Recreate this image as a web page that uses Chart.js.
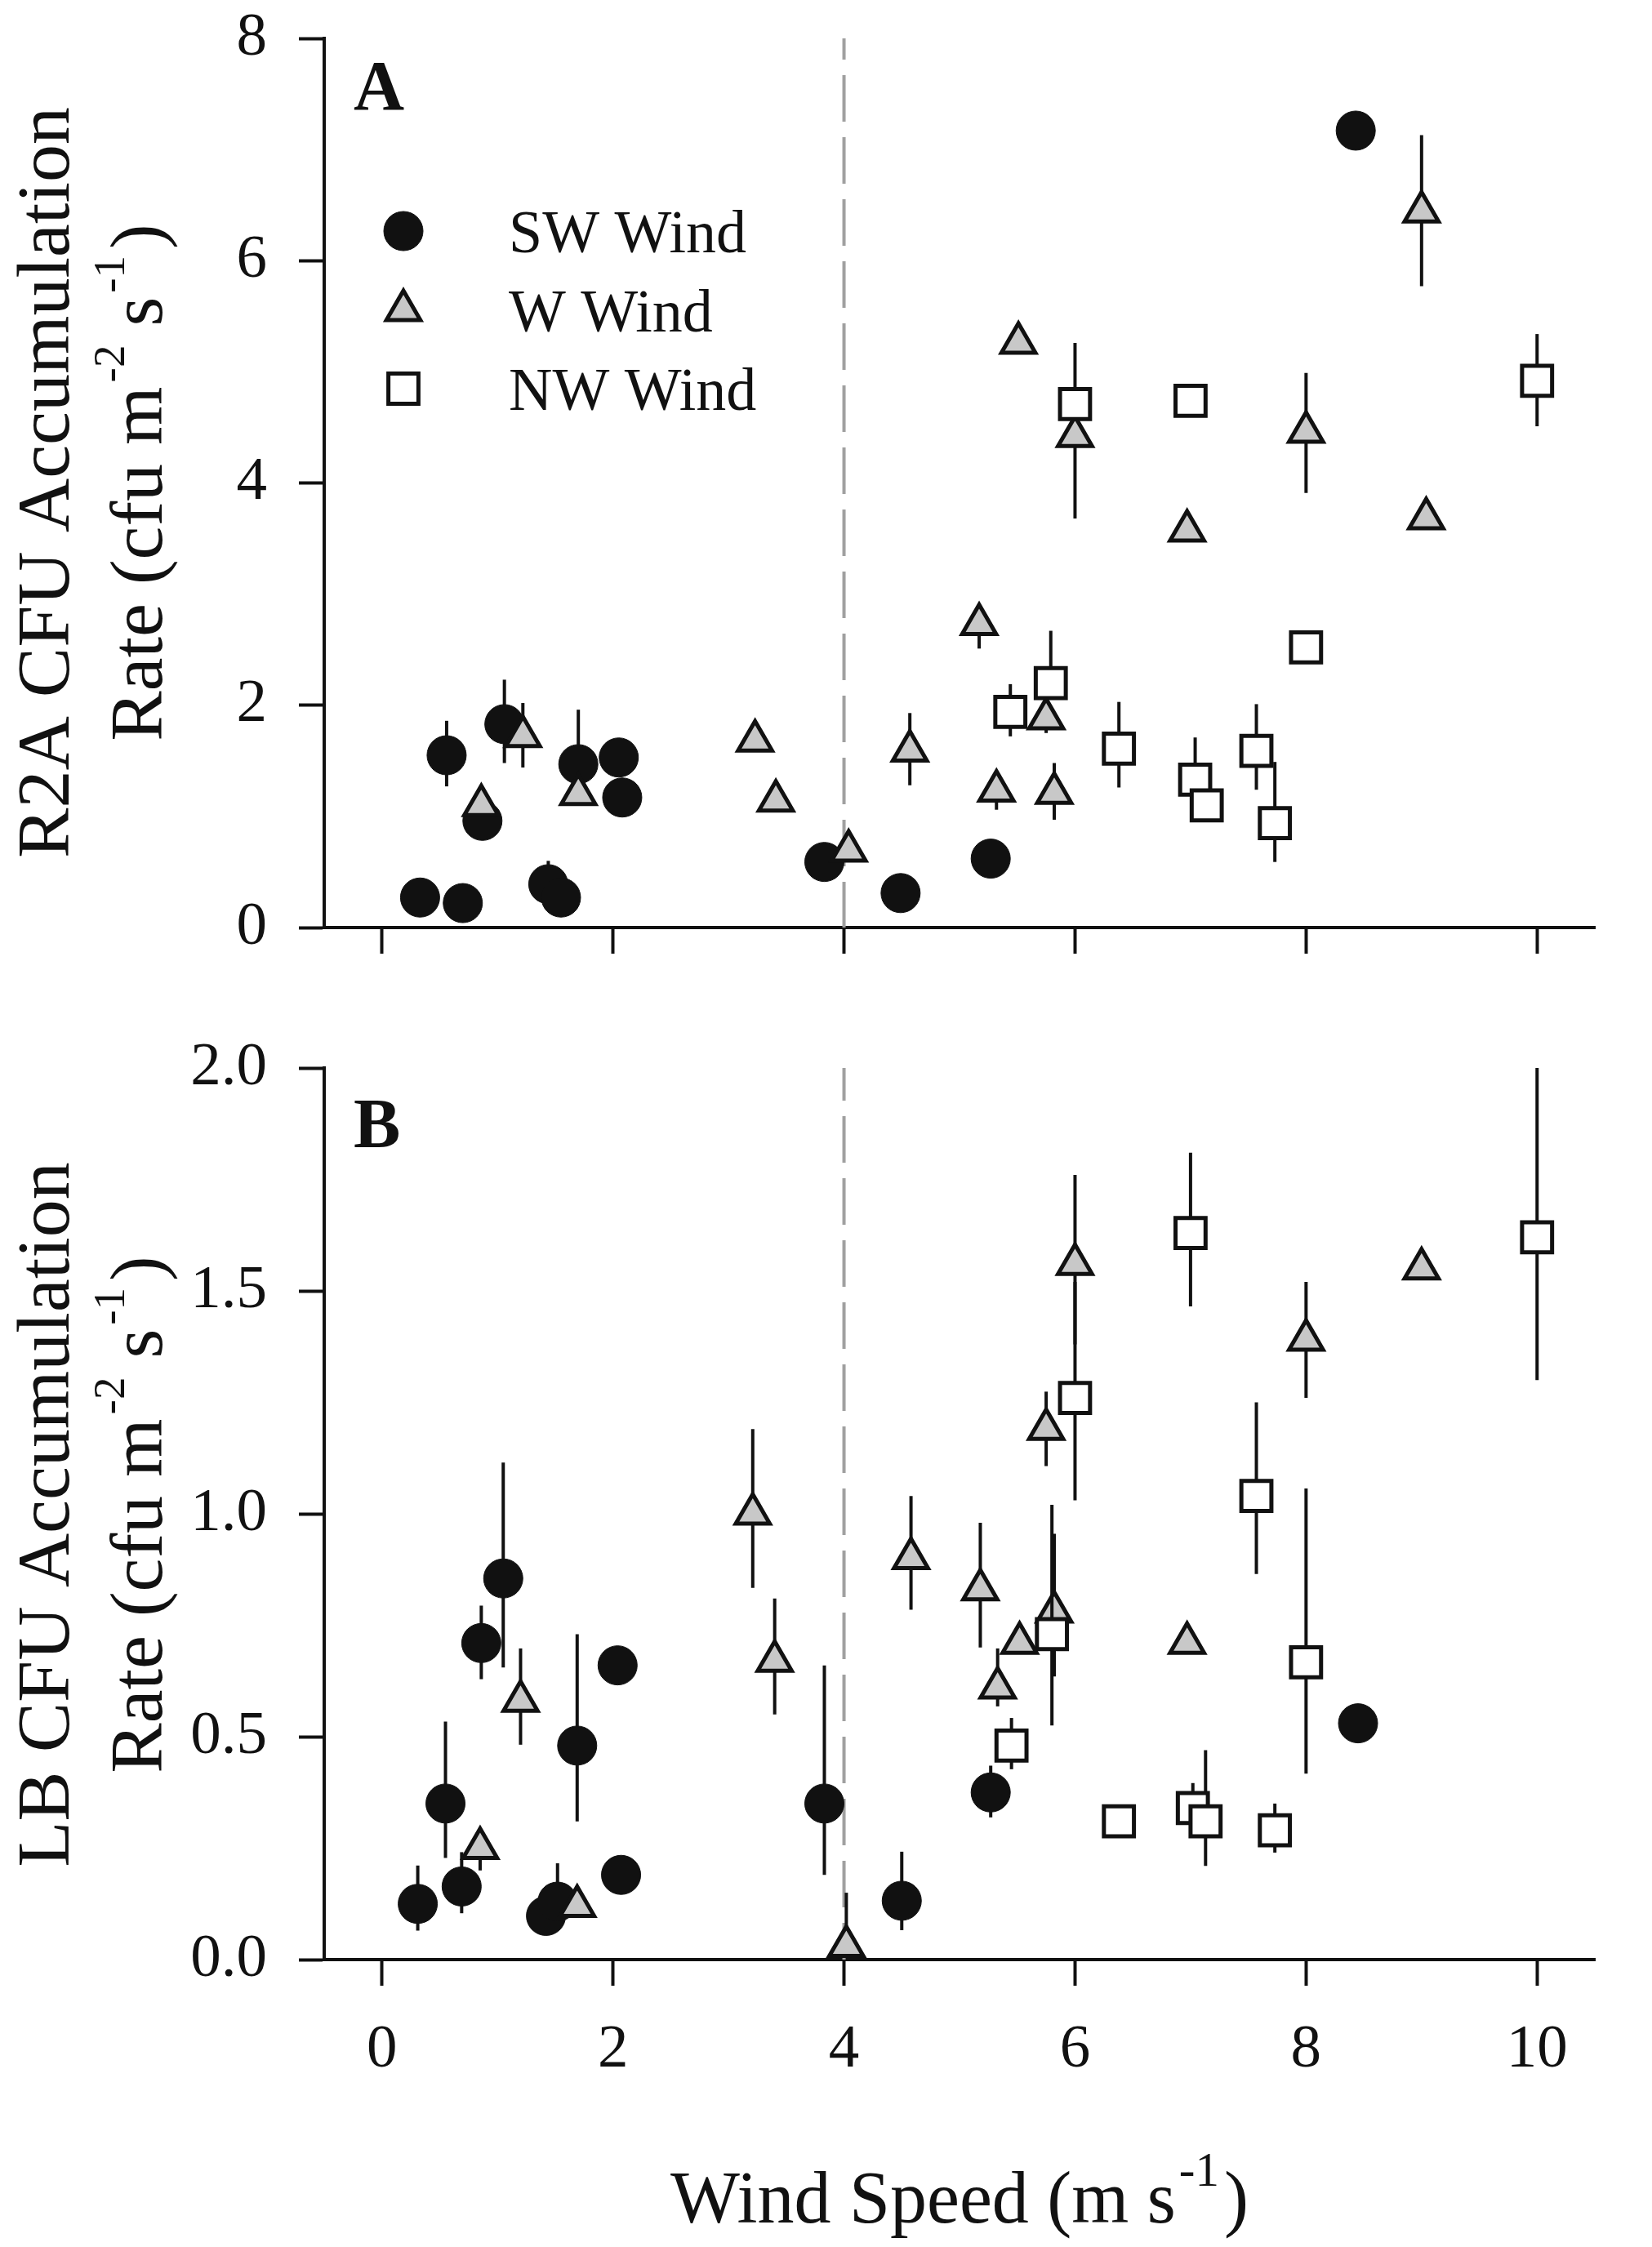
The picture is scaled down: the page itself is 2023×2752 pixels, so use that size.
<!DOCTYPE html>
<html>
<head>
<meta charset="utf-8">
<script src="https://cdn.jsdelivr.net/npm/chart.js@4.4.0/dist/chart.umd.min.js"></script>
<style>
  html, body { margin: 0; padding: 0; background: #fff; }
  #wrap { position: relative; width: 2023px; height: 2752px; }
  canvas { position: absolute; left: 0; }
  #chartA { top: 0; }
  #chartB { top: 1250px; }
</style>
</head>
<body>
<div id="wrap">
  <canvas id="chartA" width="2023" height="1250"></canvas>
  <canvas id="chartB" width="2023" height="1502"></canvas>
</div>
<script>
// ---- tick values ----
const xTicks = [0, 2, 4, 6, 8, 10];
const r2aTicks = [0, 2, 4, 6, 8];
const lbTicks = [0, 0.5, 1.0, 1.5, 2.0];
const splitSpeed = 4;

// ---- Panel A: R2A ----
const r2aSwX  = [0.33, 0.70, 0.56, 0.87, 1.06, 1.44, 1.55, 1.70, 2.05, 2.08, 3.83, 4.49, 5.27, 8.43];
const r2aSwY  = [0.27, 0.22, 1.55, 0.96, 1.83, 0.39, 0.27, 1.47, 1.53, 1.17, 0.59, 0.31, 0.62, 7.17];
const r2aSwUp = [0, 0, 0.31, 0, 0.40, 0.21, 0, 0.49, 0, 0, 0, 0, 0, 0];
const r2aSwDn = [0, 0, 0.28, 0, 0.35, 0.10, 0, 0.30, 0, 0, 0, 0, 0, 0];

const r2aWX  = [0.86, 1.22, 1.70, 3.23, 3.41, 4.04, 4.57, 5.17, 5.32, 5.51, 5.75, 5.82, 6.00, 6.97, 8.00, 9.00, 9.04];
const r2aWY  = [1.10, 1.72, 1.20, 1.68, 1.14, 0.69, 1.59, 2.73, 1.23, 5.26, 1.88, 1.21, 4.42, 3.57, 4.46, 6.44, 3.68];
const r2aWUp = [0, 0.30, 0, 0, 0, 0, 0.34, 0.15, 0.15, 0, 0.10, 0.27, 0.15, 0, 0.53, 0.69, 0];
const r2aWDn = [0, 0.28, 0, 0, 0, 0, 0.31, 0.22, 0.17, 0, 0.13, 0.24, 0.74, 0, 0.55, 0.67, 0];

const r2aNwX  = [5.44, 5.79, 6.00, 6.38, 7.00, 7.04, 7.14, 7.57, 7.73, 8.00, 10.0];
const r2aNwY  = [1.94, 2.20, 4.71, 1.61, 4.74, 1.33, 1.10, 1.59, 0.94, 2.52, 4.92];
const r2aNwUp = [0.25, 0.47, 0.55, 0.42, 0.05, 0.38, 0, 0.42, 0.55, 0, 0.42];
const r2aNwDn = [0.22, 0.10, 0.10, 0.35, 0, 0.30, 0, 0.35, 0.35, 0, 0.41];

// ---- Panel B: LB ----
const lbSwX  = [0.31, 0.55, 0.69, 0.86, 1.05, 1.42, 1.52, 1.69, 2.04, 2.07, 3.83, 4.50, 5.27, 8.45];
const lbSwY  = [0.125, 0.35, 0.164, 0.71, 0.855, 0.098, 0.13, 0.48, 0.66, 0.19, 0.35, 0.132, 0.375, 0.53];
const lbSwUp = [0.086, 0.184, 0.077, 0.084, 0.26, 0, 0.086, 0.25, 0, 0, 0.31, 0.11, 0.06, 0];
const lbSwDn = [0.06, 0.122, 0.06, 0.081, 0.20, 0, 0.05, 0.17, 0, 0, 0.16, 0.066, 0.056, 0];

const lbWX  = [0.85, 1.20, 1.69, 3.21, 3.40, 4.02, 4.58, 5.18, 5.33, 5.52, 5.75, 5.82, 6.00, 6.97, 8.00, 9.00];
const lbWY  = [0.25, 0.58, 0.12, 1.00, 0.67, 0.03, 0.90, 0.83, 0.61, 0.71, 1.19, 0.78, 1.56, 0.71, 1.39, 1.55];
const lbWUp = [0.03, 0.118, 0, 0.19, 0.14, 0.12, 0.14, 0.15, 0.088, 0, 0.084, 0.175, 0.20, 0, 0.13, 0];
const lbWDn = [0.05, 0.098, 0, 0.166, 0.12, 0, 0.115, 0.13, 0.042, 0, 0.083, 0.145, 0.18, 0, 0.13, 0];

const lbNwX  = [5.45, 5.80, 6.00, 6.38, 7.00, 7.02, 7.13, 7.57, 7.73, 8.00, 10.0];
const lbNwY  = [0.48, 0.73, 1.26, 0.31, 1.63, 0.34, 0.31, 1.04, 0.29, 0.667, 1.62];
const lbNwUp = [0.062, 0.29, 0.26, 0, 0.18, 0.056, 0.16, 0.21, 0.06, 0.39, 0.38];
const lbNwDn = [0.053, 0.205, 0.23, 0, 0.165, 0.04, 0.10, 0.175, 0.05, 0.25, 0.32];

const seriesNames = ['SW Wind', 'W Wind', 'NW Wind'];

const FONT = '"Liberation Serif", "Times New Roman", serif';
const INK = '#111';

// marker looks for the three wind directions
const markerStyles = [
    { pointStyle: 'circle',   pointRadius: 24, pointBackgroundColor: INK,       pointBorderColor: INK, pointBorderWidth: 1, order: 3 },
    { pointStyle: 'triangle', pointRadius: 24, pointBackgroundColor: '#c8c8c8', pointBorderColor: INK, pointBorderWidth: 5, order: 2 },
    { pointStyle: 'rect',     pointRadius: 26, pointBackgroundColor: '#ffffff', pointBorderColor: INK, pointBorderWidth: 5, order: 1 }
];

function makeDataset(idx, xs, ys, ups, dns) {
    const st = markerStyles[idx];
    return {
        label: seriesNames[idx],
        data: xs.map((x, i) => ({ x: x, y: ys[i] })),
        errUp: ups,
        errDn: dns,
        pointStyle: st.pointStyle,
        pointRadius: st.pointRadius,
        pointHoverRadius: st.pointRadius,
        pointBackgroundColor: st.pointBackgroundColor,
        pointBorderColor: st.pointBorderColor,
        pointBorderWidth: st.pointBorderWidth,
        order: st.order,
        clip: false
    };
}

// error bars are drawn just before each dataset's markers
const errorBars = {
    id: 'errorBars',
    beforeDatasetDraw(chart, args) {
        const ds = chart.data.datasets[args.index];
        const xs = chart.scales.x, ys = chart.scales.y;
        const area = chart.chartArea;
        const ctx = chart.ctx;
        ctx.save();
        ctx.beginPath();
        ctx.rect(area.left, area.top - 2, area.right - area.left, area.bottom - area.top + 2);
        ctx.clip();
        ctx.strokeStyle = INK;
        ctx.lineWidth = 4;
        ds.data.forEach((p, i) => {
            const up = ds.errUp[i] || 0, dn = ds.errDn[i] || 0;
            if (!up && !dn) return;
            const px = xs.getPixelForValue(p.x);
            ctx.beginPath();
            ctx.moveTo(px, ys.getPixelForValue(p.y + up));
            ctx.lineTo(px, ys.getPixelForValue(p.y - dn));
            ctx.stroke();
        });
        ctx.restore();
    }
};

// text with superscripts: pieces = [[text, isSup, gapBefore], ...]
function pieceFont(sup, size, supScale) {
    return (sup ? Math.round(size * supScale) : size) + 'px ' + FONT;
}

function drawRich(ctx, pieces, x, y, size, supScale, raise) {
    let w = 0;
    pieces.forEach(([t, sup, gap]) => {
        ctx.font = pieceFont(sup, size, supScale);
        w += ctx.measureText(t).width + (gap || 0);
    });
    let cx = x - w / 2;
    ctx.textAlign = 'left';
    ctx.textBaseline = 'alphabetic';
    pieces.forEach(([t, sup, gap]) => {
        cx += gap || 0;
        ctx.font = pieceFont(sup, size, supScale);
        ctx.fillText(t, cx, sup ? y - size * raise : y);
        cx += ctx.measureText(t).width;
    });
}

function drawMarker(ctx, style, x, y) {
    const r = style.pointRadius;
    ctx.save();
    ctx.fillStyle = style.pointBackgroundColor;
    ctx.strokeStyle = style.pointBorderColor;
    ctx.lineWidth = style.pointBorderWidth;
    ctx.beginPath();
    if (style.pointStyle === 'circle') {
        ctx.arc(x, y, r, 0, Math.PI * 2);
    } else if (style.pointStyle === 'triangle') {
        for (let k = 0; k < 3; k++) {
            const a = k * 2 * Math.PI / 3;
            const vx = x + Math.sin(a) * r, vy = y - Math.cos(a) * r;
            if (k === 0) ctx.moveTo(vx, vy); else ctx.lineTo(vx, vy);
        }
        ctx.closePath();
    } else {
        const s = r * Math.SQRT1_2;
        ctx.rect(x - s, y - s, 2 * s, 2 * s);
    }
    ctx.fill();
    ctx.stroke();
    ctx.restore();
}

function makePanel(canvasId, cfg) {
    const decor = {
        id: 'panelDecor',
        beforeDatasetsDraw(chart) {
            // dashed reference line at 4 m/s
            const ctx = chart.ctx;
            const area = chart.chartArea;
            const px = chart.scales.x.getPixelForValue(splitSpeed);
            ctx.save();
            ctx.strokeStyle = '#a0a0a0';
            ctx.lineWidth = 4;
            ctx.setLineDash([57, 19]);
            ctx.lineDashOffset = cfg.dashOffset;
            ctx.beginPath();
            ctx.moveTo(px, area.top);
            ctx.lineTo(px, area.bottom);
            ctx.stroke();
            ctx.restore();
        },
        afterDraw(chart) {
            const ctx = chart.ctx;
            ctx.save();
            ctx.fillStyle = INK;

            // panel letter
            ctx.font = 'bold 86px ' + FONT;
            ctx.textAlign = 'left';
            ctx.textBaseline = 'alphabetic';
            ctx.fillText(cfg.letter, 433, cfg.letterY);

            // rotated y axis title, two lines
            ctx.save();
            ctx.translate(84, cfg.titleY);
            ctx.rotate(-Math.PI / 2);
            drawRich(ctx, [[cfg.titleLine1, false]], 0, 0, 92, 0.6, 0.5);
            ctx.restore();
            ctx.save();
            ctx.translate(198, cfg.titleY);
            ctx.rotate(-Math.PI / 2);
            drawRich(ctx, [['Rate (cfu m', false], ['-2', true, 5], [' s', false], ['-1', true, 5], [')', false, 8]],
                0, 0, 92, 0.6, 0.5);
            ctx.restore();

            if (cfg.legend) {
                const rows = [283, 380, 476];
                rows.forEach((ry, i) => {
                    drawMarker(ctx, markerStyles[i], 494, ry);
                    ctx.fillStyle = INK;
                    ctx.font = '74px ' + FONT;
                    ctx.textAlign = 'left';
                    ctx.textBaseline = 'alphabetic';
                    ctx.fillText(seriesNames[i], 623, ry + 26);
                });
            }

            if (cfg.xTitleY) {
                const area = chart.chartArea;
                drawRich(ctx, [['Wind Speed (m s', false], ['-1', true, 4], [')', false, 6]],
                    (area.left + area.right) / 2, cfg.xTitleY, 90, 0.65, 0.5);
            }
            ctx.restore();
        }
    };

    return new Chart(document.getElementById(canvasId), {
        type: 'scatter',
        data: { datasets: cfg.datasets },
        options: {
            responsive: false,
            animation: false,
            devicePixelRatio: 1,
            events: [],
            layout: { padding: { top: cfg.top, right: 70, left: 0, bottom: 0 } },
            plugins: {
                legend: { display: false },
                tooltip: { enabled: false }
            },
            scales: {
                x: {
                    type: 'linear',
                    min: -0.5,
                    max: 10.5,
                    afterBuildTicks: (axis) => { axis.ticks = xTicks.map(v => ({ value: v })); },
                    afterFit: (axis) => { axis.height = cfg.xHeight; },
                    ticks: {
                        color: cfg.xLabels ? INK : 'rgba(0,0,0,0)',
                        font: { family: FONT, size: 75 },
                        padding: 34,
                        maxRotation: 0,
                        callback: (v) => String(v)
                    },
                    grid: { drawOnChartArea: false, drawTicks: true, tickLength: 32, tickWidth: 4, tickColor: INK },
                    border: { display: true, color: INK, width: 4 }
                },
                y: {
                    type: 'linear',
                    min: cfg.yTicks[0],
                    max: cfg.yTicks[cfg.yTicks.length - 1],
                    afterBuildTicks: (axis) => { axis.ticks = cfg.yTicks.map(v => ({ value: v })); },
                    afterFit: (axis) => { axis.width = 397; },
                    ticks: {
                        color: INK,
                        // tiny line height keeps the label half-height out of the layout padding
                        font: { family: FONT, size: 75, lineHeight: 0.05 },
                        padding: 39,
                        callback: cfg.yFormat
                    },
                    grid: { drawOnChartArea: false, drawTicks: true, tickLength: 31, tickWidth: 4, tickColor: INK },
                    border: { display: true, color: INK, width: 4 }
                }
            }
        },
        plugins: [errorBars, decor]
    });
}

makePanel('chartA', {
    datasets: [
        makeDataset(0, r2aSwX, r2aSwY, r2aSwUp, r2aSwDn),
        makeDataset(1, r2aWX, r2aWY, r2aWUp, r2aWDn),
        makeDataset(2, r2aNwX, r2aNwY, r2aNwUp, r2aNwDn)
    ],
    yTicks: r2aTicks,
    yFormat: (v) => String(v),
    top: 47,
    xHeight: 114,
    xLabels: false,
    letter: 'A',
    letterY: 134,
    titleLine1: 'R2A CFU Accumulation',
    titleY: 591,
    legend: true,
    dashOffset: 31
});

makePanel('chartB', {
    datasets: [
        makeDataset(0, lbSwX, lbSwY, lbSwUp, lbSwDn),
        makeDataset(1, lbWX, lbWY, lbWUp, lbWDn),
        makeDataset(2, lbNwX, lbNwY, lbNwUp, lbNwDn)
    ],
    yTicks: lbTicks,
    yFormat: (v) => v.toFixed(1),
    top: 58,
    xHeight: 352,
    xLabels: true,
    letter: 'B',
    letterY: 155,
    titleLine1: 'LB CFU Accumulation',
    titleY: 605,
    legend: false,
    xTitleY: 1472,
    dashOffset: 17
});
</script>
</body>
</html>
